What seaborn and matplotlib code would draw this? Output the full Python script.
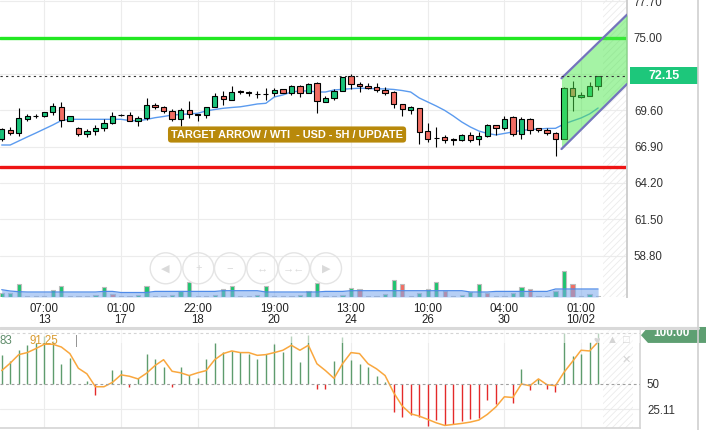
import numpy as np
import pandas as pd
import matplotlib
matplotlib.use("Agg")
import matplotlib.pyplot as plt
import matplotlib.transforms as mtransforms
from matplotlib.patches import Rectangle, Polygon, Ellipse
from matplotlib.lines import Line2D
import seaborn as sns

# ---- values (WTI / USD, 5H candles) ----
opens = [67.43, 68.15, 67.93, 68.97, 69.14, 69.16, 69.46, 69.86, 68.79, 68.32,
         67.83, 68.08, 68.30, 68.67, 69.22, 69.27, 68.79, 69.01, 70.03, 69.86,
         69.53, 68.97, 69.64, 69.34, 69.27, 69.86, 70.68, 70.38, 70.99, 70.92,
         70.80, 70.80, 70.85, 71.19, 70.90, 71.42, 70.90, 71.61, 70.25, 70.53,
         71.07, 72.18, 71.57, 71.42, 71.34, 71.14, 70.94, 70.08, 69.64, 69.78,
         68.03, 67.56, 67.60, 67.43, 67.36, 67.80, 67.43, 67.66, 68.47, 68.30,
         69.09, 67.86, 68.92, 68.32, 68.15, 67.93, 67.49, 71.24, 70.57, 70.70,
         71.44]
highs = [68.30, 68.35, 69.76, 69.34, 69.34, 69.51, 70.13, 70.25, 69.20, 68.35,
         68.18, 68.47, 68.97, 69.51, 69.30, 69.46, 69.21, 70.53, 70.13, 69.90,
         69.68, 69.78, 70.30, 69.36, 69.85, 70.87, 71.07, 71.44, 71.14, 71.00,
         71.00, 71.24, 71.29, 71.20, 71.51, 71.51, 71.66, 71.74, 70.70, 71.19,
         72.11, 72.31, 71.68, 71.60, 71.64, 71.31, 71.00, 70.10, 69.90, 69.80,
         68.67, 68.35, 67.78, 67.53, 67.85, 67.97, 67.97, 68.55, 68.50, 69.16,
         69.14, 69.09, 69.00, 68.32, 68.25, 67.97, 71.31, 71.81, 70.94, 71.68,
         72.15]
lows = [67.30, 67.73, 67.68, 68.77, 69.01, 69.09, 69.27, 68.35, 68.79, 67.66,
        67.58, 67.78, 68.03, 68.57, 69.15, 68.77, 68.42, 68.87, 69.71, 69.41,
        68.84, 68.42, 69.01, 68.84, 69.01, 69.85, 70.00, 70.38, 70.79, 70.65,
        70.50, 70.33, 70.70, 70.88, 70.75, 70.57, 70.85, 69.38, 70.20, 70.33,
        71.07, 71.20, 70.94, 71.15, 70.94, 70.75, 69.76, 69.16, 69.34, 67.06,
        67.28, 66.86, 67.19, 66.99, 67.30, 67.28, 66.99, 67.58, 67.73, 68.10,
        67.68, 67.49, 67.86, 67.97, 67.80, 66.19, 67.49, 69.58, 70.50, 70.65,
        71.12]
closes = [68.23, 67.90, 69.01, 69.21, 69.21, 69.49, 69.93, 68.89, 69.19, 67.86,
          68.08, 68.27, 68.69, 69.19, 69.24, 68.84, 69.04, 70.00, 69.83, 69.56,
          68.97, 69.64, 69.34, 69.27, 69.83, 70.65, 70.45, 70.99, 70.97, 70.90,
          70.78, 70.78, 71.14, 70.90, 71.42, 70.90, 71.57, 70.27, 70.53, 71.07,
          72.06, 71.57, 71.39, 71.24, 71.14, 70.90, 70.08, 69.71, 69.81, 67.97,
          67.49, 67.54, 67.36, 67.42, 67.80, 67.36, 67.66, 68.52, 68.30, 68.97,
          67.86, 68.92, 68.15, 68.15, 67.93, 67.49, 71.24, 70.65, 70.75, 71.39,
          72.15]
moving_avg = [67.02, 67.02, 67.32, 67.62, 67.91, 68.21, 68.51, 68.84, 68.93, 68.93,
              68.93, 68.93, 68.93, 68.93, 68.93, 68.84, 68.81, 68.92, 69.05, 69.14,
              69.25, 69.29, 69.33, 69.38, 69.55, 69.66, 69.75, 69.81, 69.86, 69.96,
              70.07, 70.12, 70.59, 70.74, 70.96, 71.04, 71.04, 70.96, 70.96, 71.11,
              71.16, 71.21, 71.24, 71.22, 71.20, 71.19, 71.15, 71.07, 70.96, 70.52,
              70.22, 69.92, 69.59, 69.18, 68.73, 68.36, 68.06, 67.88, 67.77, 67.88,
              67.99, 68.10, 68.17, 68.21, 68.25, 68.26, 68.58, 68.81, 69.03, 69.33,
              69.77]
volume = [400, 430, 1330, 100, 100, 100, 670, 1130, 100, 100,
          100, 230, 970, 300, 100, 100, 230, 1130, 100, 100,
          230, 630, 1470, 100, 100, 250, 800, 1130, 100, 100,
          250, 1070, 100, 100, 100, 250, 630, 1400, 100, 100,
          250, 900, 830, 100, 100, 300, 1730, 1300, 100, 400,
          830, 1500, 570, 100, 250, 470, 1300, 400, 100, 100,
          400, 970, 830, 100, 100, 630, 2570, 1330, 100, 270,
          100]
volume_down = [13, 42, 47, 52, 57, 62, 67]
volume_avg = [730, 600, 530, 500, 500, 500, 500, 500, 500, 500,
              500, 500, 560, 560, 450, 450, 450, 450, 560, 560,
              560, 560, 560, 560, 560, 560, 630, 630, 630, 630,
              630, 500, 500, 500, 500, 500, 500, 500, 560, 560,
              560, 630, 630, 630, 630, 630, 630, 630, 630, 630,
              630, 630, 630, 630, 630, 500, 500, 500, 560, 560,
              560, 560, 560, 560, 560, 800, 800, 800, 800, 800,
              800]
osc_hist = [78.2, 72.2, 83.2, 88.1, 90.4, 97.4, 92.4, 69.9, 75.9, 50.0,
            52.6, 39.3, 50.0, 63.9, 63.9, 46.6, 56.0, 79.9, 74.9, 66.5,
            47.3, 67.2, 59.0, 56.0, 74.9, 90.4, 81.5, 82.5, 81.5, 79.9,
            74.9, 79.9, 89.1, 81.5, 97.0, 71.5, 98.0, 45.0, 45.0, 72.5,
            96.4, 73.2, 69.2, 66.5, 58.3, 52.3, 22.7, 17.4, 19.4, 17.4,
            8.5, 14.2, 9.5, 10.8, 13.5, 15.2, 16.8, 34.1, 30.1, 50.0,
            31.7, 64.9, 44.0, 55.0, 45.0, 42.6, 100.0, 77.2, 79.9, 91.4,
            100.0]
osc_signal = [63.2, 70.5, 78.9, 80.9, 84.8, 89.1, 89.1, 86.4, 79.9, 65.5,
              60.0, 47.3, 47.3, 51.6, 59.0, 57.6, 55.0, 60.6, 68.2, 73.9,
              62.5, 61.0, 58.3, 61.0, 63.2, 73.9, 79.9, 82.5, 80.9, 80.9,
              78.2, 78.9, 80.9, 83.2, 88.1, 83.2, 88.1, 69.9, 63.2, 55.6,
              69.9, 80.9, 79.9, 69.9, 64.9, 58.3, 41.6, 28.4, 20.7, 18.4,
              15.2, 11.8, 9.2, 10.2, 11.2, 12.5, 14.5, 20.1, 27.4, 37.4,
              36.7, 50.0, 48.3, 55.0, 49.3, 48.3, 61.5, 72.2, 83.2, 82.5,
              91.4]

tick_idx = [5, 14, 23, 32, 41, 50, 59, 68]
tick_labels = ["07:00\n13", "01:00\n17", "22:00\n18", "19:00\n20",
               "13:00\n24", "10:00\n26", "04:00\n30", "01:00\n10/02"]
price_ticks = [58.80, 61.50, 64.20, 66.90, 69.60, 72.30, 75.00, 77.70]
target_level = 75.00
stop_level = 65.35
last_price = 72.15
channel_x = [65.7, 73.4]
channel_top = [71.98, 76.71]
channel_bottom = [66.72, 71.56]
title_text = "TARGET ARROW / WTI  - USD - 5H / UPDATE"

# ---- layout helpers (pixels of a 707x430 picture) ----
W, H = 707, 430
GREEN = "#19c27a"
RED = "#f26d63"


def fx(px):
    return px / W


def fy(py):
    return 1 - py / H


sns.set_style("white")
plt.rcParams["font.family"] = ["Liberation Sans", "DejaVu Sans"]
plt.rcParams["hatch.color"] = "#ebebeb"
plt.rcParams["hatch.linewidth"] = 0.6

fig = plt.figure(figsize=(W / 100, H / 100), dpi=100)
ax = fig.add_axes([0, fy(297), fx(627), 297 / H])
axo = fig.add_axes([0, fy(428.3), fx(640), 100 / H])

idx = np.arange(len(closes))
o = np.array(opens)
c = np.array(closes)
up = c >= o

# ---- main price panel ----
ax.set_axisbelow(True)
ax.grid(True, color="#ececec", lw=0.8)
ax.axvspan(70.6, 74, facecolor="none", hatch="/////", edgecolor="#ebebeb", lw=0, zorder=1)

ax.axhline(target_level, color="#22e822", lw=2.4, zorder=2)
ax.axhline(stop_level, color="#ee1414", lw=2.4, zorder=2)

sns.lineplot(x=idx, y=moving_avg, ax=ax, color="#5b9bef", lw=1.0, zorder=3)

ax.vlines(idx, lows, highs, color="black", lw=0.8, zorder=3)
ax.bar(idx, np.maximum(np.abs(c - o), 0.03), bottom=np.minimum(o, c), width=0.62,
       color=np.where(up, GREEN, RED), edgecolor="black", linewidth=0.8, zorder=4)

# channel drawn as a filled parallelogram on top of the candles
ax.fill_between(channel_x, channel_bottom, channel_top, color="#4ce84c", alpha=0.5, lw=0, zorder=5)
ax.plot(channel_x, channel_top, color="#7474bd", lw=1.6, zorder=6)
ax.plot(channel_x, channel_bottom, color="#7474bd", lw=1.6, zorder=6)

ax.axhline(last_price, color="#333333", lw=0.8, ls=(0, (2, 3)), zorder=6)

ax.text(33.49, 67.80, title_text, ha="center", va="center", color="white",
        fontsize=7.9, fontweight="bold", zorder=7,
        bbox=dict(boxstyle="round,pad=0.28,rounding_size=0.3", fc="#b8890b", ec="none"))

# volume on a twin axis along the bottom
axv = ax.twinx()
vcolors = [RED if i in volume_down else "#1fc46f" for i in idx]
axv.bar(idx, volume, width=0.5, color=vcolors, edgecolor="#bdbdbd", linewidth=0.8, zorder=2)
axv.fill_between(idx, 0, volume_avg, color="#7aa8ee", alpha=0.55, lw=0, zorder=3)
sns.lineplot(x=idx, y=volume_avg, ax=axv, color="#4f8be8", lw=0.9, zorder=4)
axv.set_ylim(0, 29700)
axv.set_yticks([])
axv.set_ylabel("")
for side in ["top", "left", "bottom", "right"]:
    axv.spines[side].set_visible(False)

ax.set_xlim(-0.2, 73.39)
ax.set_ylim(55.72, 77.80)
ax.set_xticks(tick_idx)
ax.set_xticklabels(tick_labels, linespacing=0.95)
ax.set_yticks(price_ticks)
# the 72.30 label sits under the last-price box, so it is left blank
ax.set_yticklabels(["" if v == 72.30 else f"{v:.2f}" for v in price_ticks])
ax.yaxis.set_label_position("right")
ax.tick_params(axis="y", left=False, right=False, labelleft=False, labelright=True,
               length=0, pad=5, labelsize=8.3, labelcolor="#333333")
ax.tick_params(axis="x", length=0, pad=4, labelsize=8.3, labelcolor="#222222")
for side in ["top", "left", "bottom"]:
    ax.spines[side].set_visible(False)
ax.spines["right"].set_color("#cfcfcf")
ax.spines["right"].set_linewidth(1.4)

# ---- oscillator panel ----
axo.set_axisbelow(True)
axo.grid(True, axis="x", color="#ececec", lw=0.8)
axo.axhline(25.11, color="#ececec", lw=0.8, zorder=0)
axo.axvspan(70.6, 74.1, facecolor="none", hatch="/////", edgecolor="#ebebeb", lw=0, zorder=1)
hist = np.array(osc_hist)
axo.vlines(idx, 50, hist, colors=np.where(hist >= 50, "#5e9c6d", "#e42a2a"), lw=1.0, zorder=2)
sns.lineplot(x=idx, y=osc_signal, ax=axo, color="#f9a73e", lw=1.1, zorder=3)
axo.axhline(50, color="#a0a0a0", lw=0.8, ls=(0, (2.5, 2.5)), zorder=4)
axo.axhline(100, color="#a0a0a0", lw=0.8, ls=(0, (2.5, 2.5)), zorder=4)
axo.add_patch(Rectangle((-0.2, 90.8), 80, 14, fc="white", alpha=0.55, lw=0, zorder=5))
axo.set_xlim(-0.2, 74.92)
axo.set_ylim(6.4, 104.8)
axo.set_xticks(tick_idx)
axo.set_xticklabels([])
axo.set_yticks([25.11, 50])
axo.set_yticklabels(["25.11", "50"])
axo.tick_params(axis="y", left=False, right=False, labelleft=False, labelright=True,
                length=0, pad=5, labelsize=8.3, labelcolor="#333333")
axo.tick_params(axis="x", length=0)
for side in ["top", "left"]:
    axo.spines[side].set_visible(False)
for side in ["right", "bottom"]:
    axo.spines[side].set_color("#d4d4d4")
    axo.spines[side].set_linewidth(1.2)

# ---- labels outside the plot areas ----
blend = mtransforms.blended_transform_factory(fig.transFigure, ax.transData)
fig.add_artist(Rectangle((fx(630), last_price - 8.5 / 13.45), 68 / W, 17 / 13.45,
                         transform=blend, fc="#1dc77b", ec="none", zorder=10))
fig.text(fx(664), last_price, f"{last_price:.2f}", transform=blend, ha="center", va="center",
         color="white", fontsize=9, fontweight="bold", zorder=11)

blend_o = mtransforms.blended_transform_factory(fig.transFigure, axo.transData)
tag = [(fx(641), 98.0), (fx(648), 100 + 6.1), (fx(706), 100 + 6.1),
       (fx(706), 100 - 9.6), (fx(648), 100 - 9.6)]
fig.add_artist(Polygon(tag, closed=True, transform=blend_o, fc="#5e9f72", ec="none", zorder=10))
fig.text(fx(671), 100, "100.00", transform=blend_o, ha="center", va="center",
         color="white", fontsize=8.5, fontweight="bold", zorder=11)

fig.text(fx(0), fy(341), "83", color="#5e8c6a", fontsize=8.3, va="center", ha="left")
fig.text(fx(29), fy(341), "91.25", color="#d99a2e", fontsize=8.3, va="center", ha="left")
fig.text(fx(75), fy(341), "|", color="#888888", fontsize=8.3, va="center", ha="left")
for xp, yp, glyph in [(597, 341, "\u2665"), (612, 340, "\u25b2"), (626, 340, "\u25a1"), (626, 360, "\u2715")]:
    fig.text(fx(xp), fy(yp), glyph, color="#d4d4d4", fontsize=8, ha="center", va="center")

# navigation buttons
for xp, glyph in zip([165.7, 198.3, 230, 262.3, 294, 326],
                     ["\u25c0", "+", "\u2212", "\u2194", "\u2192\u2190", "\u25b6"]):
    fig.add_artist(Ellipse((fx(xp), fy(268.3)), 31 / W, 31 / H, transform=fig.transFigure,
                           fc="none", ec="#e4e4e4", lw=1.0, zorder=8))
    fig.text(fx(xp), fy(268.3), glyph, color="#dadada", fontsize=8, ha="center", va="center", zorder=8)

# separators
fig.add_artist(Line2D([0, fx(698)], [fy(328), fy(328)], transform=fig.transFigure,
                      color="#d9d9d9", lw=2.2, zorder=12))
fig.add_artist(Line2D([fx(698), fx(698)], [0, 1], transform=fig.transFigure,
                      color="#d0d0d0", lw=1.2, zorder=12))

fig.savefig("out.png", dpi=100)
